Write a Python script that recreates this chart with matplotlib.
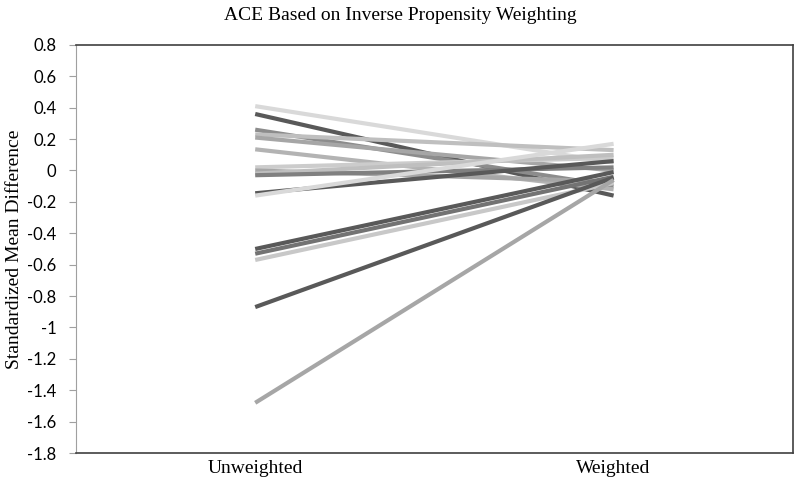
import matplotlib
matplotlib.use("Agg")
import matplotlib.pyplot as plt
import numpy as np

# ── Data: standardized mean difference per covariate, before / after IPW
groups = ["Unweighted", "Weighted"]
unweighted = [0.41, 0.36, 0.26, 0.23, 0.21, 0.135, 0.02, 0.00, -0.02, -0.03,
              -0.145, -0.16, -0.50, -0.53, -0.57, -0.87, -1.48]
weighted = [0.05, -0.16, -0.10, 0.13, 0.00, -0.12, 0.08, -0.07, 0.10, 0.02,
            0.06, 0.17, -0.01, -0.04, -0.08, -0.045, -0.06]
shades = ["#d9d9d9", "#595959", "#8c8c8c", "#bfbfbf", "#a6a6a6", "#b3b3b3",
          "#cccccc", "#a6a6a6", "#bfbfbf", "#808080", "#595959", "#d9d9d9",
          "#595959", "#737373", "#c8c8c8", "#595959", "#a6a6a6"]
yticks = [0.8, 0.6, 0.4, 0.2, 0, -0.2, -0.4, -0.6, -0.8, -1, -1.2, -1.4, -1.6, -1.8]

fig = plt.figure(figsize=(8, 4.83), dpi=100)
ax = fig.add_axes([0.095, 0.062, 0.896, 0.845])

x = np.arange(len(groups))
for u, w, c in zip(unweighted, weighted, shades):
    ax.plot(x, [u, w], color=c, lw=3.0, solid_capstyle="butt")

ax.set_xlim(-0.5, 1.5)
ax.set_ylim(-1.8, 0.8)
ax.set_xticks(x)
ax.set_xticklabels(groups, family="Liberation Serif", fontsize=14)
ax.tick_params(axis="x", length=0, pad=5)
ax.set_yticks(yticks)
ax.set_yticklabels([f"{t:g}" for t in yticks], family="Lato", fontsize=12)
ax.tick_params(axis="y", length=5, color="#a0a0a0", pad=9)

for side in ["top", "right", "bottom"]:
    ax.spines[side].set_color("#404040")
    ax.spines[side].set_linewidth(1.2)
ax.spines["left"].set_color("#a0a0a0")

ax.set_ylabel("Standardized Mean Difference", family="Liberation Serif",
              fontsize=14, labelpad=3)
fig.suptitle("ACE Based on Inverse Propensity Weighting",
             family="Liberation Serif", fontsize=14, y=0.985)

fig.savefig("out.png", dpi=100)
